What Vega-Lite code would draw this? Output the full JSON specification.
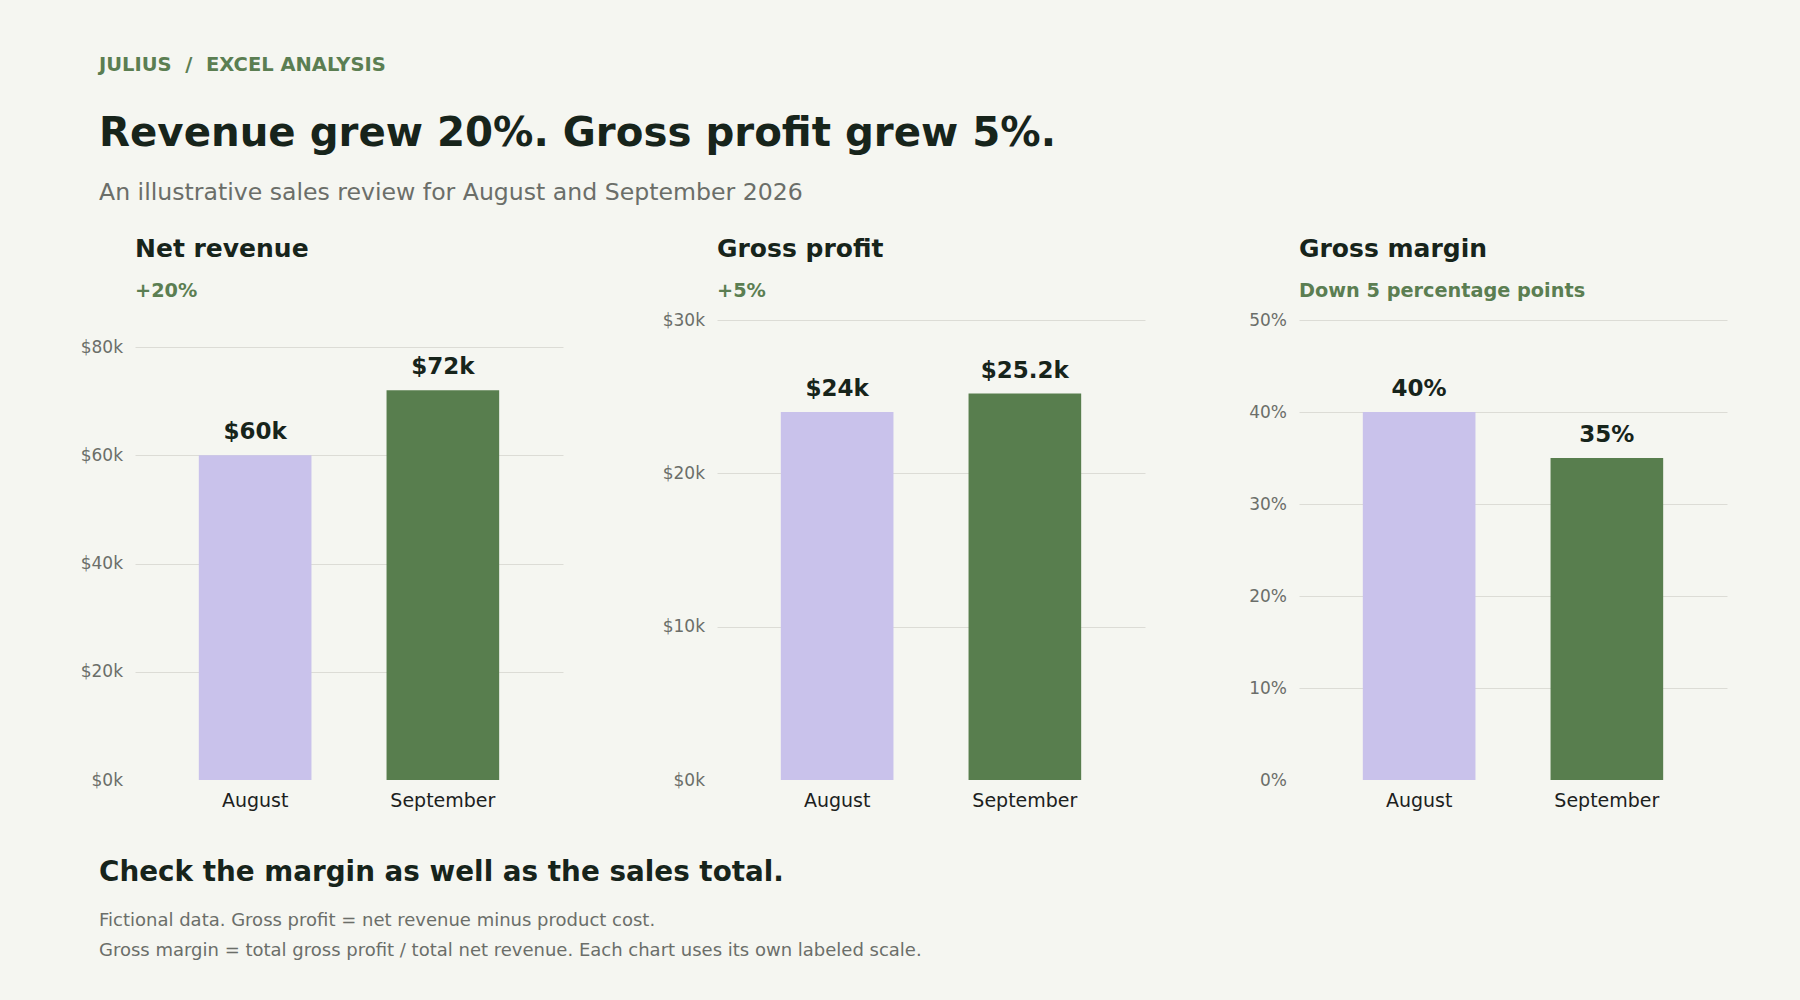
{
  "$schema": "https://vega.github.io/schema/vega-lite/v6.json",
  "background": "#f5f6f1",
  "padding": {"left": 80, "top": 55, "right": 74, "bottom": 40},
  "datasets": {
    "months": [
      {"month": "August", "revenue": 60000, "profit": 24000, "margin": 0.40},
      {"month": "September", "revenue": 72000, "profit": 25200, "margin": 0.35}
    ]
  },
  "config": {
    "font": "DejaVu Sans",
    "view": {"stroke": null},
    "axisY": {
      "domain": false,
      "ticks": false,
      "tickSize": 0,
      "labelFontSize": 17,
      "labelColor": "#6b6e69",
      "labelPadding": 12.5,
      "minExtent": 55,
      "gridColor": "#dcdcd6",
      "gridWidth": 1,
      "title": null
    },
    "axisX": {
      "domain": false,
      "ticks": false,
      "tickSize": 0,
      "grid": false,
      "labelAngle": 0,
      "labelFontSize": 19,
      "labelColor": "#1c211d",
      "labelPadding": 11,
      "title": null
    },
    "title": {
      "anchor": "start",
      "frame": "group",
      "baseline": "top",
      "subtitleBaseline": "top"
    },
    "bar": {"stroke": null}
  },
  "title": {
    "text": "JULIUS\u00a0\u00a0/\u00a0\u00a0EXCEL ANALYSIS",
    "anchor": "start",
    "frame": "bounds",
    "dx": 19,
    "fontSize": 19.5,
    "fontWeight": "bold",
    "color": "#5b7e52",
    "offset": 38.3
  },
  "vconcat": [
    {
      "title": {
        "text": "Revenue grew 20%. Gross profit grew 5%.",
        "subtitle": "An illustrative sales review for August and September 2026",
        "anchor": "start",
        "frame": "bounds",
        "dx": 19,
        "fontSize": 40.3,
        "fontWeight": "bold",
        "color": "#17241b",
        "subtitleFontSize": 23.6,
        "subtitleColor": "#6b6e69",
        "subtitlePadding": 27,
        "offset": 31.7
      },
      "vconcat": [
        {
          "title": {
            "text": "Check the margin as well as the sales total.",
            "subtitle": [
              "Fictional data. Gross profit = net revenue minus product cost.",
              "Gross margin = total gross profit / total net revenue. Each chart uses its own labeled scale."
            ],
            "orient": "bottom",
            "anchor": "start",
            "frame": "bounds",
            "dx": 19,
            "fontSize": 27.8,
            "fontWeight": "bold",
            "color": "#17241b",
            "subtitleFontSize": 18,
            "subtitleLineHeight": 30,
            "subtitleColor": "#6b6e69",
            "subtitlePadding": 25.6,
            "offset": 48.5
          },
          "spacing": 99,
          "hconcat": [
            {
              "width": 428,
              "height": 460,
              "data": {"name": "months"},
              "title": {
                "text": "Net revenue",
                "subtitle": "+20%",
                "fontSize": 25,
                "fontWeight": "bold",
                "color": "#17241b",
                "subtitleFontSize": 19.3,
                "subtitleFontWeight": "bold",
                "subtitleColor": "#5b7e52",
                "subtitlePadding": 20,
                "offset": 18.5
              },
              "encoding": {
                "x": {
                  "field": "month",
                  "type": "nominal",
                  "sort": ["August", "September"],
                  "scale": {"paddingInner": 0.4, "paddingOuter": 0.34}
                },
                "y": {
                  "field": "revenue",
                  "type": "quantitative",
                  "scale": {"domain": [0, 85000], "nice": false},
                  "axis": {
                    "values": [0, 20000, 40000, 60000, 80000],
                    "labelExpr": "'$' + datum.value / 1000 + 'k'",
                    "gridOpacity": {"condition": {"test": "datum.value === 0", "value": 0}, "value": 1}
                  }
                }
              },
              "layer": [
                {
                  "mark": {"type": "bar"},
                  "encoding": {
                    "color": {
                      "field": "month",
                      "type": "nominal",
                      "scale": {"domain": ["August", "September"], "range": ["#c9c2eb", "#587e4e"]},
                      "legend": null
                    }
                  }
                },
                {
                  "mark": {"type": "text", "baseline": "alphabetic", "dy": -16, "fontSize": 23, "fontWeight": "bold", "color": "#17241b"},
                  "encoding": {"text": {"field": "revenue", "type": "quantitative", "format": "$.3~s"}}
                }
              ]
            },
            {
              "width": 428,
              "height": 460,
              "data": {"name": "months"},
              "title": {
                "text": "Gross profit",
                "subtitle": "+5%",
                "fontSize": 25,
                "fontWeight": "bold",
                "color": "#17241b",
                "subtitleFontSize": 19.3,
                "subtitleFontWeight": "bold",
                "subtitleColor": "#5b7e52",
                "subtitlePadding": 20,
                "offset": 10
              },
              "encoding": {
                "x": {
                  "field": "month",
                  "type": "nominal",
                  "sort": ["August", "September"],
                  "scale": {"paddingInner": 0.4, "paddingOuter": 0.34}
                },
                "y": {
                  "field": "profit",
                  "type": "quantitative",
                  "scale": {"domain": [0, 30000], "nice": false},
                  "axis": {
                    "values": [0, 10000, 20000, 30000],
                    "labelExpr": "'$' + datum.value / 1000 + 'k'",
                    "gridOpacity": {"condition": {"test": "datum.value === 0", "value": 0}, "value": 1}
                  }
                }
              },
              "layer": [
                {
                  "mark": {"type": "bar"},
                  "encoding": {
                    "color": {
                      "field": "month",
                      "type": "nominal",
                      "scale": {"domain": ["August", "September"], "range": ["#c9c2eb", "#587e4e"]},
                      "legend": null
                    }
                  }
                },
                {
                  "mark": {"type": "text", "baseline": "alphabetic", "dy": -16, "fontSize": 23, "fontWeight": "bold", "color": "#17241b"},
                  "encoding": {"text": {"field": "profit", "type": "quantitative", "format": "$.3~s"}}
                }
              ]
            },
            {
              "width": 428,
              "height": 460,
              "data": {"name": "months"},
              "title": {
                "text": "Gross margin",
                "subtitle": "Down 5 percentage points",
                "fontSize": 25,
                "fontWeight": "bold",
                "color": "#17241b",
                "subtitleFontSize": 19.3,
                "subtitleFontWeight": "bold",
                "subtitleColor": "#5b7e52",
                "subtitlePadding": 20,
                "offset": 10
              },
              "encoding": {
                "x": {
                  "field": "month",
                  "type": "nominal",
                  "sort": ["August", "September"],
                  "scale": {"paddingInner": 0.4, "paddingOuter": 0.34}
                },
                "y": {
                  "field": "margin",
                  "type": "quantitative",
                  "scale": {"domain": [0, 0.5], "nice": false},
                  "axis": {
                    "values": [0, 0.1, 0.2, 0.3, 0.4, 0.5],
                    "format": ".0%",
                    "gridOpacity": {"condition": {"test": "datum.value === 0", "value": 0}, "value": 1}
                  }
                }
              },
              "layer": [
                {
                  "mark": {"type": "bar"},
                  "encoding": {
                    "color": {
                      "field": "month",
                      "type": "nominal",
                      "scale": {"domain": ["August", "September"], "range": ["#c9c2eb", "#587e4e"]},
                      "legend": null
                    }
                  }
                },
                {
                  "mark": {"type": "text", "baseline": "alphabetic", "dy": -16, "fontSize": 23, "fontWeight": "bold", "color": "#17241b"},
                  "encoding": {"text": {"field": "margin", "type": "quantitative", "format": ".0%"}}
                }
              ]
            }
          ]
        }
      ]
    }
  ]
}
